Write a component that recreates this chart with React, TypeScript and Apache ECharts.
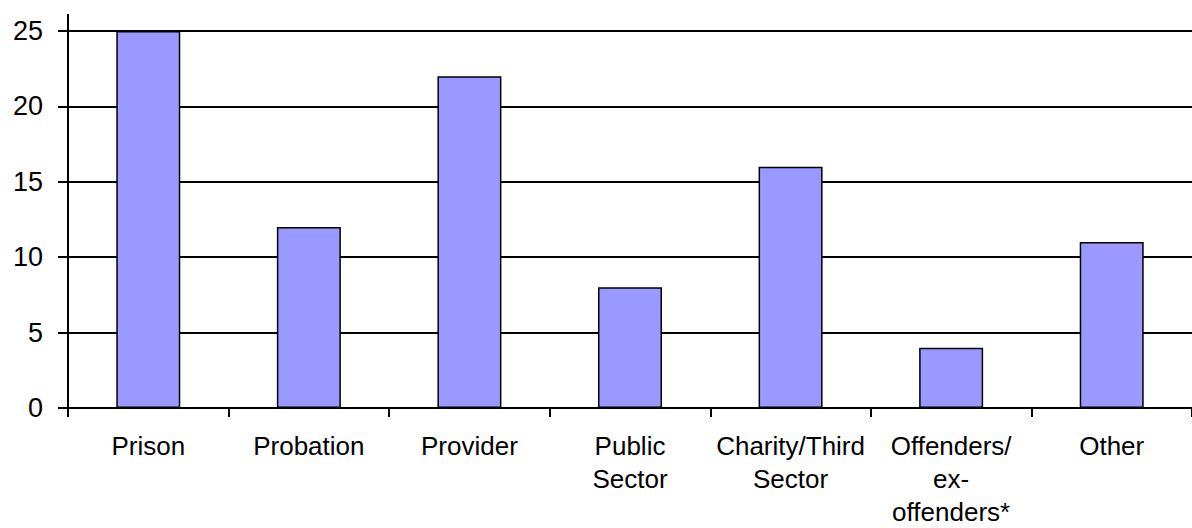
import React, { useEffect, useRef } from "react";
import * as echarts from "echarts";

const categories = [
  "Prison",
  "Probation",
  "Provider",
  "Public\nSector",
  "Charity/Third\nSector",
  "Offenders/\nex-\noffenders*",
  "Other",
];
const values = [25, 12, 22, 8, 16, 4, 11];
const yMin = 0;
const yMax = 25;
const yInterval = 5;

export default function App() {
  const ref = useRef<HTMLDivElement>(null);
  useEffect(() => {
    if (!ref.current) return;
    const chart = echarts.init(ref.current, null, { renderer: "svg" });
    chart.setOption({
      animation: false,
      backgroundColor: "#ffffff",
      textStyle: { fontFamily: "Liberation Sans, Arial, sans-serif" },
      grid: { left: 68, right: 0, top: 31, bottom: 115, containLabel: false },
      xAxis: {
        type: "category",
        data: categories,
        axisLine: { show: true, lineStyle: { color: "#000", width: 2 } },
        axisTick: { show: true, length: 9, lineStyle: { color: "#000", width: 2 } },
        axisLabel: {
          interval: 0,
          color: "#000",
          fontSize: 26,
          lineHeight: 33,
          margin: 21,
          fontFamily: "Liberation Sans, Arial, sans-serif",
        },
        splitLine: { show: false },
      },
      yAxis: {
        type: "value",
        min: yMin,
        max: yMax,
        interval: yInterval,
        axisLine: { show: true, lineStyle: { color: "#000", width: 2 } },
        axisTick: { show: true, length: 10, lineStyle: { color: "#000", width: 2 } },
        axisLabel: {
          color: "#000",
          fontSize: 27,
          margin: 25,
          fontFamily: "Liberation Sans, Arial, sans-serif",
        },
        splitLine: { show: true, lineStyle: { color: "#000", width: 2 } },
      },
      graphic: [
        {
          type: "line",
          shape: { x1: 68, y1: 14, x2: 68, y2: 32 },
          style: { stroke: "#000", lineWidth: 2 },
        },
      ],
      series: [
        {
          type: "bar",
          data: values,
          barWidth: 64,
          itemStyle: { color: "#9999FF", borderColor: "#000", borderWidth: 1.5 },
        },
      ],
    });
    return () => chart.dispose();
  }, []);
  return (
    <div
      ref={ref}
      style={{ position: "absolute", left: 0, top: 0, width: 1192, height: 528 }}
    />
  );
}
